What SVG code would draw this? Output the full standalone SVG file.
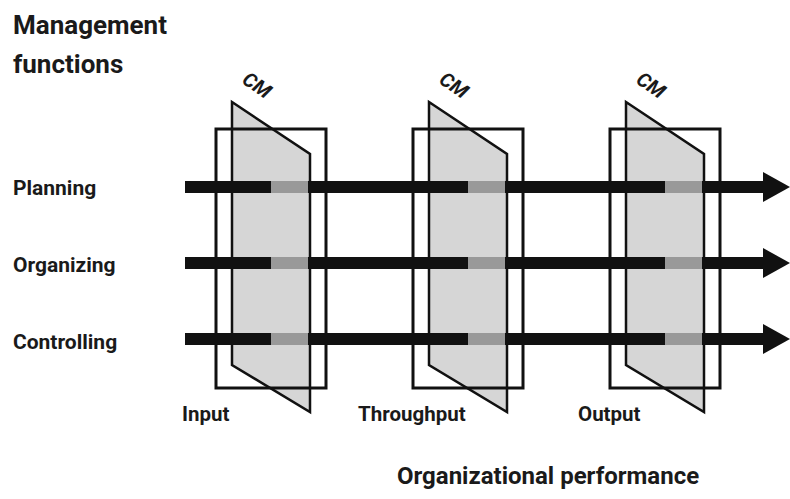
<svg xmlns="http://www.w3.org/2000/svg" width="790" height="499" viewBox="0 0 790 499">
<style>
.lbl{font-family:Roboto,"Liberation Sans",sans-serif;font-weight:bold;fill:#1a1a1a}
.cm{font-family:Roboto,"Liberation Sans",sans-serif;font-style:italic;font-weight:bold;font-size:20px;fill:#1a1a1a}
.para{fill:#d6d6d6;stroke:#111;stroke-width:2.5;stroke-linejoin:miter}
.box{fill:none;stroke:#111;stroke-width:3}
.bar{stroke:#111;stroke-width:12;fill:none}
.seg{stroke:#999;stroke-width:12;fill:none}
</style>
<defs>
<marker id="ah" markerUnits="userSpaceOnUse" markerWidth="27" markerHeight="30" refX="0" refY="15" orient="auto" viewBox="0 0 27 30">
<path d="M0,0 L27,15 L0,30 Z" fill="#111"/>
</marker>
</defs>
<rect width="790" height="499" fill="#fff"/>
<text class="lbl" x="13" y="34" font-size="26">Management</text>
<text class="lbl" x="13" y="73" font-size="26">functions</text>
<text class="lbl" x="13" y="195" font-size="21">Planning</text>
<text class="lbl" x="13" y="272" font-size="21">Organizing</text>
<text class="lbl" x="13" y="349" font-size="21">Controlling</text>
<g id="input">
<polygon class="para" points="232,102 310,154 310,412 232,365"/>
<rect class="box" x="216" y="129" width="110" height="259"/>
<text class="cm" text-anchor="middle" transform="translate(257,85) rotate(35)" y="7">CM</text>
<text class="lbl" x="182" y="421" font-size="20.5">Input</text>
</g>
<g id="throughput">
<polygon class="para" points="429,102 507,154 507,412 429,365"/>
<rect class="box" x="413" y="129" width="110" height="259"/>
<text class="cm" text-anchor="middle" transform="translate(454,85) rotate(35)" y="7">CM</text>
<text class="lbl" x="358" y="421" font-size="20.5">Throughput</text>
</g>
<g id="output">
<polygon class="para" points="626,102 704,154 704,412 626,365"/>
<rect class="box" x="610" y="129" width="110" height="259"/>
<text class="cm" text-anchor="middle" transform="translate(651,85) rotate(35)" y="7">CM</text>
<text class="lbl" x="578" y="421" font-size="20.5">Output</text>
</g>
<g id="connectors">
<line class="bar" x1="185" y1="187" x2="763" y2="187" marker-end="url(#ah)"/>
<line class="bar" x1="185" y1="263" x2="763" y2="263" marker-end="url(#ah)"/>
<line class="bar" x1="185" y1="339" x2="763" y2="339" marker-end="url(#ah)"/>
<path class="seg" d="M271,187H308M468,187H505M665,187H702M271,263H308M468,263H505M665,263H702M271,339H308M468,339H505M665,339H702"/>
</g>
<text class="lbl" x="397" y="484" font-size="24">Organizational performance</text>
</svg>
